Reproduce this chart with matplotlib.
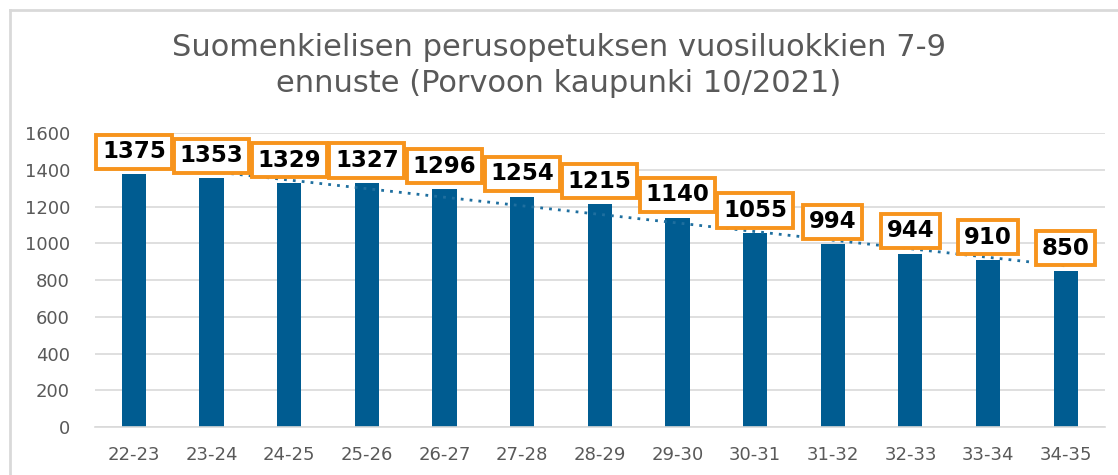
import numpy as np
import matplotlib.pyplot as plt
from matplotlib.lines import Line2D

# Data
years = ["22-23", "23-24", "24-25", "25-26", "26-27", "27-28", "28-29",
         "29-30", "30-31", "31-32", "32-33", "33-34", "34-35"]
pupils = [1375, 1353, 1329, 1327, 1296, 1254, 1215, 1140, 1055, 994, 944, 910, 850]
yticks = [0, 200, 400, 600, 800, 1000, 1200, 1400, 1600]
title = "Suomenkielisen perusopetuksen vuosiluokkien 7-9\nennuste (Porvoon kaupunki 10/2021)"

plt.rcParams["font.family"] = ["DejaVu Sans"]

fig = plt.figure(figsize=(11.18, 4.75), dpi=100)
ax = fig.add_axes([0.085, 0.101, 0.903, 0.619])

# Outer chart frame (only top and left edges visible in the crop)
fig.lines.append(Line2D([10 / 1118, 1.0], [1 - 10 / 475] * 2, transform=fig.transFigure,
                        color="#d9d9d9", linewidth=2))
fig.lines.append(Line2D([10 / 1118] * 2, [0.0, 1 - 10 / 475], transform=fig.transFigure,
                        color="#d9d9d9", linewidth=2))

x = np.arange(len(years))
ax.bar(x, pupils, width=0.31, color="#005c91", zorder=2)

# Linear trendline (dotted)
coef = np.polyfit(x, pupils, 1)
ax.plot(x, np.polyval(coef, x), linestyle=(0, (1, 2.2)), color="#1f6f9f",
        linewidth=2, zorder=3)

# Data labels in orange boxes
for xi, v in zip(x, pupils):
    ax.annotate(str(v), (xi, v), xytext=(0, 8), textcoords="offset points",
                ha="center", va="bottom", fontsize=16.5, fontweight="bold",
                color="black", zorder=5,
                bbox=dict(boxstyle="square,pad=0.25", facecolor="white",
                          edgecolor="#f7941d", linewidth=2.8))

ax.set_xlim(-0.5, len(years) - 0.5)
ax.set_ylim(0, 1600)
ax.set_yticks(yticks)
ax.set_xticks(x)
ax.set_xticklabels(years)
ax.tick_params(axis="both", labelsize=13, colors="#595959", length=0)
ax.tick_params(axis="x", pad=14)
ax.tick_params(axis="y", pad=18)
ax.grid(axis="y", color="#d9d9d9", linewidth=1.2, zorder=0)
for s in ["top", "right", "left"]:
    ax.spines[s].set_visible(False)
ax.spines["bottom"].set_color("#d9d9d9")
ax.spines["bottom"].set_linewidth(1.2)

fig.text(0.5, 0.862, title, ha="center", va="center", fontsize=22,
         color="#595959", linespacing=1.3)

fig.savefig("out.png", dpi=100)
